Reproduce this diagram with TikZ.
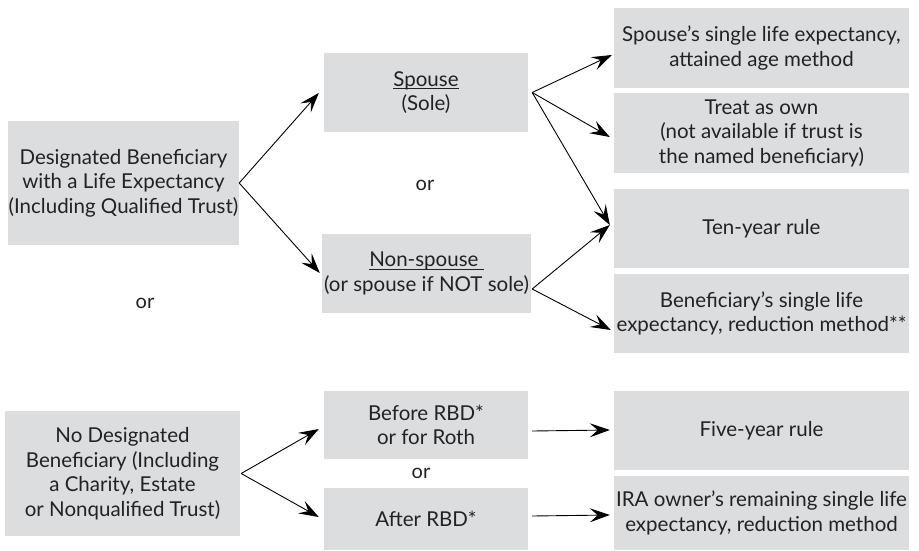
\documentclass[tikz,border=0pt]{standalone}
\usepackage{fontspec}
\setmainfont{Lato}
\usetikzlibrary{arrows.meta,calc}
\definecolor{boxgray}{HTML}{DCDDDF}
\definecolor{txt}{HTML}{222222}
\newcommand{\myul}[1]{\setbox0\hbox{#1}\rlap{\rule[-2.6pt]{\wd0}{0.9pt}}\box0}
\tikzset{
  gbox/.style={fill=boxgray, draw=none, align=center, text=txt, inner sep=0pt,
    font=\fontsize{20.5}{24.5}\selectfont},
  ortext/.style={text=txt, font=\fontsize{20}{24}\selectfont},
  tiphead/.tip={Stealth[length=20pt,width=14pt,inset=8pt]},
  arr/.style={draw=black, line width=0.9pt, -tiphead},
}
\begin{document}
\begin{tikzpicture}[x=1pt,y=-1pt]
\useasboundingbox (0,0) rectangle (919,550);
\node[gbox, minimum width=231pt, minimum height=124pt] (db) at (123.5,183) {Designated Beneficiary\\with a Life Expectancy\\(Including Qualified Trust)};
\node[gbox, minimum width=204pt, minimum height=79pt] (sp) at (426,92.5) {\myul{Spouse}\\(Sole)};
\node[gbox, minimum width=209pt, minimum height=79pt] (ns) at (426.5,273.5) {\myul{Non-spouse\ }\\(or spouse if NOT sole)};
\node[gbox, minimum width=295pt, minimum height=80pt] (ra) at (761.5,48) {Spouse’s single life expectancy,\\attained age method};
\node[gbox, minimum width=295pt, minimum height=80pt] (rb) at (761.5,133) {Treat as own\\(not available if trust is\\the named beneficiary)};
\node[gbox, minimum width=295pt, minimum height=79pt] (rc) at (761.5,228.5) {Ten-year rule};
\node[gbox, minimum width=295pt, minimum height=79pt] (rd) at (761.5,313.5) {Beneficiary’s single life\\expectancy, reduction method**};
\node[gbox, minimum width=235pt, minimum height=125pt] (nd) at (122.5,473.5) {No Designated\\Beneficiary (Including\\a Charity, Estate\\or Nonqualified Trust)};
\node[gbox, minimum width=204pt, minimum height=68pt] (bf) at (426,425) {Before RBD*\\or for Roth};
\node[gbox, minimum width=204pt, minimum height=62pt] (af) at (426,519) {After RBD*};
\node[gbox, minimum width=295pt, minimum height=79pt] (fy) at (761.5,430.5) {Five-year rule};
\node[gbox, minimum width=295pt, minimum height=74pt] (ira) at (761.5,513) {IRA owner’s remaining single life\\expectancy, reduction method};
\node[ortext] (or1) at (425,185) {or};
\node[ortext] (or2) at (145,303) {or};
\node[ortext] (or3) at (421,473) {or};
% connectors
\draw[arr] (db.east) -- ($(sp.west)+(-5,0.5)$);
\draw[arr] (db.east) -- ($(ns.west)+(-2,-0.5)$);
\coordinate (spo) at ($(sp.east)+(4,0)$);
\draw[arr] (spo) -- ($(ra.west)+(-2,7)$);
\draw[arr] (spo) -- ($(rb.west)+(-4,4)$);
\draw[arr] (spo) -- ($(rc.west)+(-4,-3.5)$);
\coordinate (nso) at ($(ns.east)+(1,15.5)$);
\draw[arr] (nso) -- ($(rc.west)+(-4,-3.5)$);
\draw[arr] (nso) -- ($(rd.west)+(-3,16.5)$);
\draw[arr] ($(nd.east)+(1,0)$) -- ($(bf.west)+(-5,4)$);
\draw[arr] ($(nd.east)+(1,0)$) -- ($(af.west)+(-5,-2)$);
\draw[arr] ($(bf.east)+(4,6)$) -- ($(fy.west)+(-4,-0.5)$);
\draw[arr] ($(af.east)+(4,-3)$) -- ($(ira.west)+(-4,2)$);
\end{tikzpicture}
\end{document}
